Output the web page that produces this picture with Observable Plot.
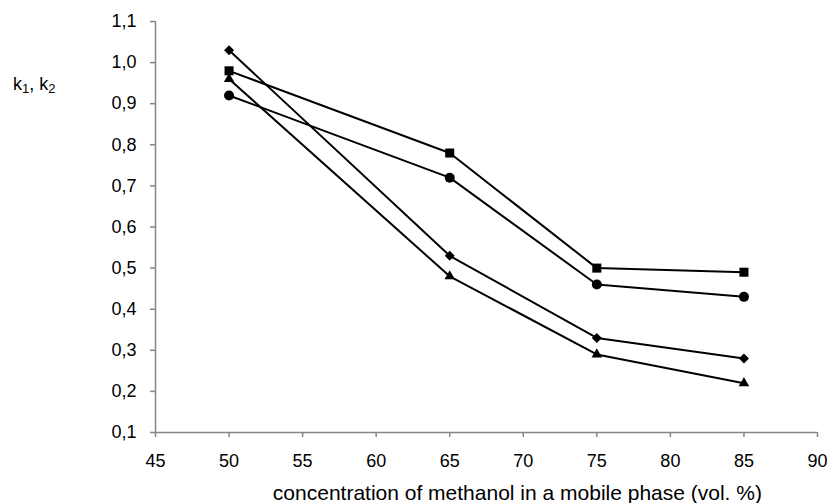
<!DOCTYPE html>
<html>
<head>
<meta charset="utf-8">
<script src="https://cdn.jsdelivr.net/npm/d3@7"></script>
<script src="https://cdn.jsdelivr.net/npm/@observablehq/plot@0.6"></script>
<style>
  html, body { margin: 0; padding: 0; background: #fff; }
  #chart { position: relative; width: 831px; height: 503px; }
  #ylab { position: absolute; left: 13px; top: 74px; z-index: 2; font: 18px "Liberation Sans", Arial, sans-serif; color: #000; line-height: 21px; white-space: nowrap; }
  #ylab sub { font-size: 13px; vertical-align: baseline; position: relative; top: 3px; }
</style>
</head>
<body>
<div id="chart"><div id="ylab">k<sub>1</sub>, k<sub>2</sub></div></div>
<script>
const concentration = [50, 65, 75, 85];
const diamondSeries = [1.03, 0.53, 0.33, 0.28];
const squareSeries = [0.98, 0.78, 0.50, 0.49];
const circleSeries = [0.92, 0.72, 0.46, 0.43];
const triangleSeries = [0.96, 0.48, 0.29, 0.22];
const xTicks = [45, 50, 55, 60, 65, 70, 75, 80, 85, 90];
const yTicks = [0.1, 0.2, 0.3, 0.4, 0.5, 0.6, 0.7, 0.8, 0.9, 1.0, 1.1];
const xLabel = "concentration of methanol in a mobile phase (vol. %)";

const seriesDefs = [
  {name: "diamond", values: diamondSeries, symbol: "diamond2", r: 4.5},
  {name: "square", values: squareSeries, symbol: "square", r: 5.1},
  {name: "circle", values: circleSeries, symbol: "circle", r: 5},
  {name: "triangle", values: triangleSeries, symbol: "triangle", r: 3.9}
];
const rows = seriesDefs.flatMap(s => concentration.map((x, i) => ({series: s.name, x, y: s.values[i], symbol: s.symbol})));

const fmt = d => d3.format(".1f")(d).replace(".", ",");

const plot = Plot.plot({
  width: 831,
  height: 503,
  marginLeft: 155,
  marginRight: 14,
  marginTop: 21,
  marginBottom: 71,
  style: {fontFamily: "'Liberation Sans', Arial, sans-serif", fontSize: "18px", background: "white", overflow: "visible"},
  x: {domain: [45, 90]},
  y: {domain: [0.1, 1.1]},
  symbol: {type: "identity"},
  marks: [
    Plot.ruleX([45], {stroke: "#868686", strokeWidth: 1.5}),
    Plot.ruleY([0.1], {stroke: "#868686", strokeWidth: 1.5}),
    Plot.axisX({ticks: xTicks, tickSize: 5, stroke: "#868686", strokeWidth: 1.5, strokeOpacity: 1, fill: "#000", tickFormat: d => String(d), tickPadding: 17, fontSize: 18, label: null}),
    Plot.axisY({ticks: yTicks, tickSize: 5, stroke: "#868686", strokeWidth: 1.5, strokeOpacity: 1, fill: "#000", tickFormat: fmt, tickPadding: 14, fontSize: 18, label: null}),
    Plot.line(rows, {x: "x", y: "y", z: "series", stroke: "#000", strokeWidth: 2}),
    ...seriesDefs.map(s => Plot.dot(rows.filter(r => r.series === s.name), {x: "x", y: "y", symbol: "symbol", r: s.r, fill: "#000", stroke: "none"})),
    Plot.text([xLabel], {frameAnchor: "bottom", dy: 61, lineAnchor: "middle", x: 69.6, text: d => d, fill: "#000", fontSize: 21})
  ]
});
plot.style.position = "absolute";
plot.style.left = "0";
plot.style.top = "0";
plot.style.zIndex = "1";
document.getElementById("chart").appendChild(plot);
</script>
</body>
</html>
